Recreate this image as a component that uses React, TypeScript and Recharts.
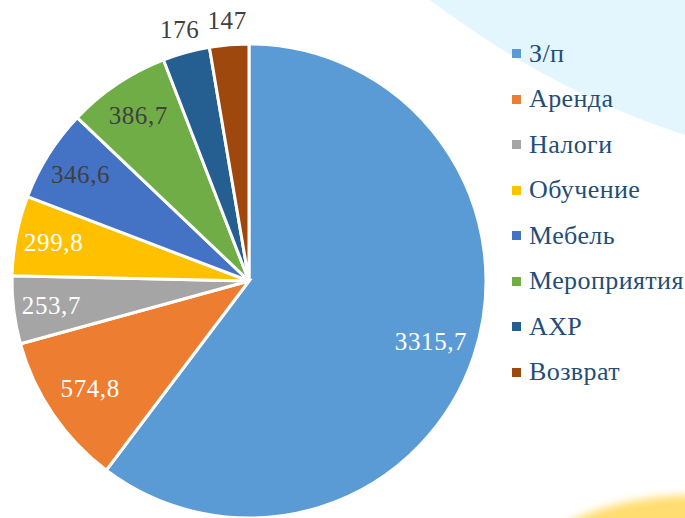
import { PieChart, Pie, Cell, Legend } from "recharts";

const categories = [
  "З/п",
  "Аренда",
  "Налоги",
  "Обучение",
  "Мебель",
  "Мероприятия",
  "АХР",
  "Возврат",
];
const values = [3315.7, 574.8, 253.7, 299.8, 346.6, 386.7, 176, 147];
const valueLabels = ["3315,7", "574,8", "253,7", "299,8", "346,6", "386,7", "176", "147"];

const COLORS = ["#5B9BD5", "#ED7D31", "#A5A5A5", "#FFC000", "#4472C4", "#70AD47", "#255E91", "#9E480E"];
const LABEL_COLORS = ["#fff", "#fff", "#fff", "#fff", "#404040", "#404040", "#404040", "#404040"];

const data = categories.map((name, i) => ({ name, value: values[i], label: valueLabels[i] }));

const RADIAN = Math.PI / 180;
const FONT = '"Liberation Serif", serif';

function renderLabel(props: any) {
  const { cx, cy, midAngle, outerRadius, percent, index } = props;
  // small slices get their label outside
  const r = percent < 0.04 ? outerRadius + 24 : outerRadius * (percent < 0.075 ? 0.84 : 0.81);
  const x = cx + r * Math.cos(-midAngle * RADIAN);
  const y = cy + r * Math.sin(-midAngle * RADIAN);
  return (
    <text
      x={x}
      y={y}
      fill={LABEL_COLORS[index]}
      textAnchor="middle"
      dominantBaseline="central"
      fontSize={25}
      letterSpacing={0.6}
      fontFamily={FONT}
    >
      {data[index].label}
    </text>
  );
}

function renderLegend() {
  return (
    <div style={{ fontFamily: FONT }}>
      {data.map((d, i) => (
        <div
          key={d.name}
          style={{
            display: "flex",
            alignItems: "center",
            height: 45.5,
            color: "#1F4E79",
            fontSize: 26,
            letterSpacing: 0.4,
            whiteSpace: "nowrap",
          }}
        >
          <span
            style={{ width: 9, height: 9, background: COLORS[i], marginRight: 8, display: "inline-block", flexShrink: 0 }}
          />
          {d.name}
        </div>
      ))}
    </div>
  );
}

export default function App() {
  return (
    <div style={{ position: "relative", width: 685, height: 518, overflow: "hidden", background: "#fff" }}>
      <style>{`body{margin:0}`}</style>
      <svg width={685} height={518} style={{ position: "absolute", left: 0, top: 0 }}>
        <defs>
          <filter id="blur">
            <feGaussianBlur stdDeviation="4" />
          </filter>
        </defs>
        <path d="M430,0 C470,30 560,95 685,135 L685,0 Z" fill="#E4F6FD" />
        <ellipse cx={700} cy={575} rx={175} ry={80} fill="#FFDD70" filter="url(#blur)" />
      </svg>
      <div style={{ position: "absolute", left: 0, top: 0 }}>
        <PieChart width={685} height={518} margin={{ top: 0, right: 0, bottom: 0, left: 0 }}>
          <Pie
            data={data}
            dataKey="value"
            nameKey="name"
            cx={249}
            cy={281}
            outerRadius={237}
            startAngle={90}
            endAngle={-270}
            stroke="#fff"
            strokeWidth={3}
            label={renderLabel}
            labelLine={false}
            isAnimationActive={false}
          >
            {data.map((d, i) => (
              <Cell key={d.name} fill={COLORS[i]} />
            ))}
          </Pie>
          <Legend
            layout="vertical"
            align="right"
            verticalAlign="top"
            content={renderLegend}
            wrapperStyle={{ left: 512, top: 31, width: 173 }}
          />
        </PieChart>
      </div>
    </div>
  );
}
